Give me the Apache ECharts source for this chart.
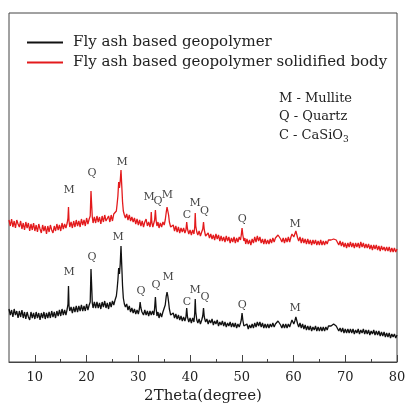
<!DOCTYPE html>
<html>
<head>
<meta charset="utf-8">
<script src="https://cdn.jsdelivr.net/npm/echarts@6.0.0/dist/echarts.min.js"></script>
<style>
  html, body { margin: 0; padding: 0; background: #fff; }
  #xrd-chart { width: 405px; height: 405px; }
</style>
</head>
<body>
<div id="xrd-chart"></div>
<script>
// XRD 图谱：粉煤灰基地聚合物 / 固化体
// 强度为任意单位，按图上像素读数

const seriesNames = ["Fly ash based geopolymer", "Fly ash based geopolymer solidified body"];

const blackPattern = [
  [5, 53], [5.25, 47], [5.5, 52], [5.75, 45], [6, 53], [6.25, 47], [6.5, 51], [6.75, 44], [7, 51], [7.25, 45],
  [7.5, 52], [7.75, 44], [8, 50], [8.25, 43], [8.5, 50], [8.75, 45], [9, 42], [9.25, 50], [9.5, 44], [9.75, 49],
  [10, 43], [10.25, 50], [10.5, 44], [10.75, 49], [11, 42], [11.25, 49], [11.5, 44], [11.75, 50], [12, 43], [12.25, 49],
  [12.5, 44], [12.75, 50], [13, 44], [13.25, 51], [13.5, 45], [13.75, 50], [14, 44], [14.25, 51], [14.5, 46], [14.75, 52],
  [15, 46], [15.25, 53], [15.5, 47], [15.75, 52], [16, 47], [16.25, 53], [16.4, 58], [16.5, 76], [16.6, 56], [16.75, 51],
  [17, 55], [17.25, 49], [17.5, 55], [17.75, 50], [18, 56], [18.25, 50], [18.5, 56], [18.75, 51], [19, 57], [19.25, 51],
  [19.5, 56], [19.75, 51], [20, 58], [20.25, 52], [20.5, 57], [20.7, 60], [20.85, 93], [20.95, 80], [21.1, 59], [21.25, 54],
  [21.5, 60], [21.75, 54], [22, 60], [22.25, 54], [22.5, 59], [22.75, 53], [23, 60], [23.25, 55], [23.5, 61], [23.75, 54],
  [24, 59], [24.25, 53], [24.5, 60], [24.75, 55], [25, 61], [25.25, 57], [25.5, 62], [25.75, 66], [25.9, 73], [26.05, 82],
  [26.2, 94], [26.35, 88], [26.5, 98], [26.65, 116], [26.8, 96], [26.95, 76], [27.1, 64], [27.3, 58], [27.5, 55], [27.75, 58],
  [28, 52], [28.25, 56], [28.5, 50], [28.75, 54], [29, 49], [29.25, 53], [29.5, 48], [29.75, 52], [30, 48], [30.2, 53],
  [30.35, 60], [30.5, 54], [30.7, 50], [31, 47], [31.25, 52], [31.5, 47], [31.75, 51], [32, 46], [32.25, 51], [32.5, 47],
  [32.75, 51], [33, 47], [33.15, 54], [33.3, 65], [33.45, 53], [33.6, 46], [33.8, 50], [34, 44], [34.25, 49], [34.5, 45],
  [34.75, 50], [35, 50], [35.2, 57], [35.4, 66], [35.55, 70], [35.7, 66], [35.85, 60], [36.0, 53], [36.25, 47], [36.5, 45],
  [36.75, 49], [37, 44], [37.25, 48], [37.5, 43], [37.75, 47], [38, 42], [38.25, 46], [38.5, 41], [38.75, 45], [39, 41],
  [39.2, 45], [39.35, 54], [39.5, 45], [39.75, 40], [40, 44], [40.25, 39], [40.5, 44], [40.75, 40], [40.9, 49], [41.0, 63],
  [41.1, 50], [41.3, 42], [41.5, 39], [41.75, 43], [42, 38], [42.25, 42], [42.45, 46], [42.6, 54], [42.75, 45], [43, 40],
  [43.25, 43], [43.5, 38], [43.75, 42], [44, 39], [44.25, 43], [44.5, 37], [44.75, 41], [45, 38], [45.25, 42], [45.5, 36],
  [45.75, 40], [46, 37], [46.25, 41], [46.5, 36], [46.75, 40], [47, 35], [47.25, 39], [47.5, 36], [47.75, 40], [48, 35],
  [48.25, 39], [48.5, 35], [48.75, 39], [49, 34], [49.25, 38], [49.5, 35], [49.75, 39], [49.9, 42], [50.05, 49], [50.2, 42],
  [50.4, 36], [50.6, 38], [50.75, 34], [51, 38], [51.25, 33], [51.5, 37], [51.75, 34], [52, 38], [52.25, 34], [52.5, 39],
  [52.75, 35], [53, 40], [53.25, 36], [53.5, 40], [53.75, 35], [54, 39], [54.25, 34], [54.5, 38], [54.75, 34], [55, 38],
  [55.25, 34], [55.5, 38], [55.75, 35], [56, 39], [56.25, 35], [56.5, 38], [56.75, 40], [57, 41], [57.25, 39], [57.5, 37],
  [57.75, 34], [58, 38], [58.25, 34], [58.5, 38], [58.75, 34], [59, 38], [59.25, 35], [59.5, 39], [59.7, 42], [59.85, 44],
  [60.05, 38], [60.25, 41], [60.45, 45], [60.6, 43], [60.8, 38], [61, 35], [61.25, 39], [61.5, 34], [61.75, 38], [62, 33],
  [62.25, 37], [62.5, 32], [62.75, 36], [63, 32], [63.25, 36], [63.5, 31], [63.75, 35], [64, 32], [64.25, 36], [64.5, 31],
  [64.75, 35], [65, 31], [65.25, 35], [65.5, 31], [65.75, 35], [66, 31], [66.25, 35], [66.5, 32], [66.75, 36], [67, 34],
  [67.25, 36], [67.5, 37], [67.75, 38], [68, 39], [68.25, 36], [68.5, 34], [68.75, 31], [69, 34], [69.25, 30], [69.5, 34],
  [69.75, 29], [70, 33], [70.25, 29], [70.5, 33], [70.75, 29], [71, 33], [71.25, 29], [71.5, 33], [71.75, 28], [72, 32],
  [72.25, 29], [72.5, 33], [72.75, 28], [73, 32], [73.25, 29], [73.5, 33], [73.75, 28], [74, 32], [74.25, 28], [74.5, 32],
  [74.75, 27], [75, 31], [75.25, 28], [75.5, 32], [75.75, 27], [76, 31], [76.25, 27], [76.5, 31], [76.75, 26], [77, 30],
  [77.25, 26], [77.5, 30], [77.75, 25], [78, 29], [78.25, 25], [78.5, 29], [78.75, 24], [79, 28], [79.25, 25], [79.5, 28],
  [79.75, 24], [80, 27]
];

const redPattern = [
  [5, 142], [5.25, 136], [5.5, 143], [5.75, 135], [6, 141], [6.25, 134], [6.5, 142], [6.75, 138], [7, 135], [7.25, 141],
  [7.5, 133], [7.75, 139], [8, 132], [8.25, 140], [8.5, 134], [8.75, 139], [9, 131], [9.25, 138], [9.5, 132], [9.75, 139],
  [10, 131], [10.25, 137], [10.5, 130], [10.75, 138], [11, 133], [11.25, 129], [11.5, 137], [11.75, 131], [12, 136], [12.25, 128],
  [12.5, 136], [12.75, 130], [13, 137], [13.25, 132], [13.5, 129], [13.75, 136], [14, 131], [14.25, 138], [14.5, 132], [14.75, 137],
  [15, 131], [15.25, 139], [15.5, 133], [15.75, 138], [16, 134], [16.25, 139], [16.4, 144], [16.5, 155], [16.6, 141], [16.75, 135],
  [17, 140], [17.25, 134], [17.5, 141], [17.75, 135], [18, 142], [18.25, 136], [18.5, 141], [18.75, 135], [19, 143], [19.25, 137],
  [19.5, 142], [19.75, 136], [20, 144], [20.25, 138], [20.5, 143], [20.7, 146], [20.85, 171], [20.95, 160], [21.1, 145], [21.25, 139],
  [21.5, 145], [21.75, 139], [22, 146], [22.25, 140], [22.5, 145], [22.75, 138], [23, 146], [23.25, 140], [23.5, 147], [23.75, 141],
  [24, 139], [24.25, 146], [24.5, 140], [24.75, 147], [25, 141], [25.25, 148], [25.5, 146], [25.75, 151], [25.9, 158], [26.05, 166],
  [26.2, 180], [26.35, 174], [26.5, 181], [26.65, 192], [26.8, 176], [26.95, 160], [27.1, 151], [27.3, 147], [27.5, 144], [27.75, 148],
  [28, 142], [28.25, 147], [28.5, 141], [28.75, 145], [29, 140], [29.25, 144], [29.5, 138], [29.75, 143], [30, 137], [30.25, 142],
  [30.5, 136], [30.75, 141], [31, 135], [31.25, 140], [31.5, 143], [31.75, 136], [32, 140], [32.25, 135], [32.4, 140], [32.5, 150],
  [32.6, 140], [32.8, 135], [33.0, 139], [33.15, 142], [33.3, 152], [33.45, 141], [33.6, 136], [33.8, 140], [34, 134], [34.25, 139],
  [34.5, 135], [34.75, 140], [35, 137], [35.2, 142], [35.4, 150], [35.55, 155], [35.7, 151], [35.85, 147], [36.0, 140], [36.25, 135],
  [36.5, 133], [36.75, 137], [37, 131], [37.25, 136], [37.5, 130], [37.75, 135], [38, 129], [38.25, 134], [38.5, 130], [38.75, 134],
  [39, 129], [39.2, 132], [39.35, 140], [39.5, 133], [39.75, 128], [40, 132], [40.25, 127], [40.5, 132], [40.75, 128], [40.9, 135],
  [41.0, 149], [41.1, 136], [41.3, 130], [41.5, 127], [41.75, 131], [42, 126], [42.25, 130], [42.45, 133], [42.6, 140], [42.75, 132],
  [43, 126], [43.25, 124], [43.5, 129], [43.75, 124], [44, 128], [44.25, 123], [44.5, 127], [44.75, 122], [45, 128], [45.25, 123],
  [45.5, 127], [45.75, 121], [46, 126], [46.25, 121], [46.5, 125], [46.75, 120], [47, 126], [47.25, 121], [47.5, 125], [47.75, 119],
  [48, 124], [48.25, 120], [48.5, 125], [48.75, 119], [49, 124], [49.25, 120], [49.5, 125], [49.75, 122], [49.9, 127], [50.05, 134],
  [50.2, 127], [50.4, 121], [50.6, 124], [50.75, 118], [51, 123], [51.25, 118], [51.5, 122], [51.75, 117], [52, 123], [52.25, 119],
  [52.5, 125], [52.75, 120], [53, 126], [53.25, 121], [53.5, 125], [53.75, 119], [54, 123], [54.25, 118], [54.5, 123], [54.75, 118],
  [55, 122], [55.25, 118], [55.5, 123], [55.75, 119], [56, 124], [56.25, 120], [56.5, 124], [56.75, 126], [57, 127], [57.25, 125],
  [57.5, 123], [57.75, 120], [58, 124], [58.25, 119], [58.5, 124], [58.75, 120], [59, 125], [59.25, 120], [59.5, 125], [59.7, 128],
  [59.85, 130], [60.05, 125], [60.25, 127], [60.45, 131], [60.6, 129], [60.8, 124], [61, 121], [61.25, 125], [61.5, 119], [61.75, 124],
  [62, 119], [62.25, 123], [62.5, 118], [62.75, 123], [63, 118], [63.25, 122], [63.5, 117], [63.75, 122], [64, 118], [64.25, 122],
  [64.5, 117], [64.75, 121], [65, 117], [65.25, 122], [65.5, 117], [65.75, 121], [66, 117], [66.25, 121], [66.5, 118], [66.75, 122],
  [67, 120], [67.25, 122], [67.5, 121], [67.75, 123], [68, 124], [68.25, 122], [68.5, 120], [68.75, 117], [69, 121], [69.25, 116],
  [69.5, 120], [69.75, 115], [70, 119], [70.25, 114], [70.5, 119], [70.75, 115], [71, 120], [71.25, 115], [71.5, 119], [71.75, 114],
  [72, 119], [72.25, 115], [72.5, 119], [72.75, 114], [73, 120], [73.25, 115], [73.5, 119], [73.75, 114], [74, 118], [74.25, 114],
  [74.5, 118], [74.75, 113], [75, 117], [75.25, 112], [75.5, 117], [75.75, 113], [76, 117], [76.25, 112], [76.5, 116], [76.75, 111],
  [77, 116], [77.25, 112], [77.5, 115], [77.75, 111], [78, 115], [78.25, 111], [78.5, 115], [78.75, 110], [79, 114], [79.25, 110],
  [79.5, 114], [79.75, 110], [80, 113]
];

// 峰标注：[2θ, 标注高度, 物相]
const blackPeaks = [
  [16.6, 90, "M"], [21.05, 105, "Q"], [26.1, 125, "M"], [30.5, 71, "Q"], [33.4, 77, "Q"], [35.75, 85, "M"],
  [39.4, 60, "C"], [41.0, 72, "M"], [42.9, 65, "Q"], [50.1, 57, "Q"], [60.3, 54, "M"]
];
const redPeaks = [
  [16.6, 172, "M"], [21.05, 189, "Q"], [26.85, 200, "M"], [32.1, 165, "M"], [33.8, 161, "Q"], [35.6, 167, "M"],
  [39.4, 147, "C"], [41.0, 159, "M"], [42.8, 151, "Q"], [50.1, 143, "Q"], [60.3, 138, "M"]
];

const majorTicks = [10, 20, 30, 40, 50, 60, 70, 80];
const minorTicks = [15, 25, 35, 45, 55, 65, 75];

const FONT = "DejaVu Serif";

const chart = echarts.init(document.getElementById("xrd-chart"), null, { renderer: "canvas" });

const peakSeries = (peaks) => ({
  type: "scatter",
  symbol: "circle",
  symbolSize: 1,
  silent: true,
  itemStyle: { color: "rgba(0,0,0,0)" },
  data: peaks.map(p => ({ value: [p[0], p[1]], name: p[2] })),
  label: {
    show: true,
    position: "inside",
    formatter: p => p.name,
    color: "#111",
    fontFamily: FONT,
    fontSize: 11,
  },
  z: 4,
});

chart.setOption({
  backgroundColor: "#fff",
  animation: false,
  grid: {
    left: 9, right: 8, top: 13, bottom: 43,
    outerBoundsMode: "none",
    show: true, borderColor: "#444", borderWidth: 1, backgroundColor: "transparent",
  },
  legend: {
    orient: "vertical",
    left: 27,
    top: 35,
    padding: 0,
    icon: "rect",
    itemWidth: 36,
    itemHeight: 2,
    itemGap: 5,
    data: seriesNames,
    textStyle: { fontFamily: FONT, fontSize: 15, color: "#222", padding: [0, 0, 0, 5] },
  },
  title: {
    left: 279,
    top: 89,
    padding: 0,
    text: "M - Mullite\nQ - Quartz\nC - CaSiO{sub|3}",
    textStyle: {
      fontFamily: FONT, fontSize: 13, fontWeight: "normal", color: "#222", lineHeight: 18.5,
      rich: { sub: { fontFamily: FONT, fontSize: 9, verticalAlign: "bottom", padding: [6, 0, 0, 0] } },
    },
  },
  xAxis: [
    {
      type: "value", min: 5, max: 80,
      name: "2Theta(degree)", nameLocation: "middle", nameGap: 27,
      nameTextStyle: { fontFamily: FONT, fontSize: 15, color: "#222" },
      axisLine: { show: true, onZero: false, lineStyle: { color: "#444", width: 1 } },
      axisTick: { show: true, inside: true, length: 7, customValues: majorTicks, lineStyle: { color: "#444" } },
      axisLabel: { customValues: majorTicks, fontFamily: FONT, fontSize: 13, color: "#222", margin: 9 },
      splitLine: { show: false },
    },
    {
      type: "value", min: 5, max: 80, position: "bottom",
      axisLine: { show: false, onZero: false },
      axisTick: { show: true, inside: true, length: 3, customValues: minorTicks, lineStyle: { color: "#444" } },
      axisLabel: { show: false },
      splitLine: { show: false },
    },
  ],
  yAxis: {
    type: "value", min: 0, max: 349,
    axisLine: { show: false },
    axisTick: { show: false },
    axisLabel: { show: false },
    splitLine: { show: false },
  },
  series: [
    {
      name: seriesNames[0], type: "line", symbol: "none",
      lineStyle: { color: "#111", width: 1.3 }, itemStyle: { color: "#111" },
      data: blackPattern, z: 3,
    },
    {
      name: seriesNames[1], type: "line", symbol: "none",
      lineStyle: { color: "#e31a1c", width: 1.3 }, itemStyle: { color: "#e31a1c" },
      data: redPattern, z: 3,
    },
    peakSeries(blackPeaks),
    peakSeries(redPeaks),
  ],
});
</script>
</body>
</html>
